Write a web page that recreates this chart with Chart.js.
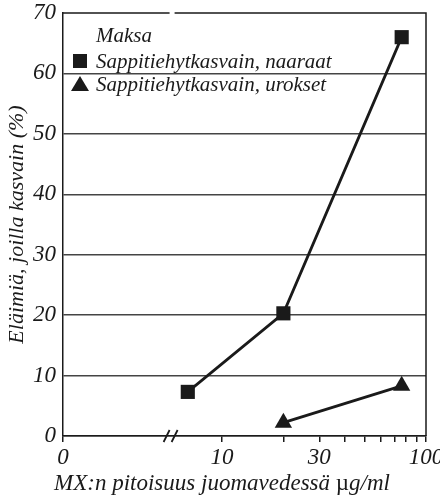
<!DOCTYPE html>
<html>
<head>
<meta charset="utf-8">
<script src="https://cdn.jsdelivr.net/npm/chart.js@4/dist/chart.umd.min.js"></script>
<style>
  html, body { margin: 0; padding: 0; background: #fff; }
  #wrap { width: 440px; height: 500px; position: relative; }
</style>
</head>
<body>
<div id="wrap"><canvas id="kuva"></canvas></div>
<script>
// left end of the log axis, labelled "0" (controls sit left of the break)
const controlDose = 1.663;
const breakDose = 5.6;
const xTickValues = [controlDose, 10, 20, 30, 40, 50, 60, 70, 80, 90, 100];
const xLabelValues = [controlDose, 10, 30, 100];
const xLabelTexts = ['0', '10', '30', '100'];
const yMax = 70;
const yStep = 10;

const femaleDose = [6.8, 20, 76];
const femaleTumours = [7.3, 20.3, 66];
const maleDose = [20, 76];
const maleTumours = [2.2, 8.3];

const legendTitle = 'Maksa';
const seriesNames = ['Sappitiehytkasvain, naaraat', 'Sappitiehytkasvain, urokset'];
// x title in pieces: the micro sign is upright in the original
const xTitleParts = [['MX:n pitoisuus juomavedessä ', 'italic'], ['µ', 'normal'], ['g/ml', 'italic']];

const ink = '#1a1a1a';
const gridInk = '#444';
const serif = "'Liberation Serif', 'Times New Roman', serif";

function points(xs, ys) {
  return xs.map((x, i) => ({ x: x, y: ys[i] }));
}

// top frame with the break gap, right frame, break marks, legend and x title
const kehys = {
  id: 'kehys',
  afterDraw(chart) {
    const { ctx, chartArea: a } = chart;
    const bx = chart.scales.x.getPixelForValue(breakDose);
    ctx.save();
    ctx.strokeStyle = ink;
    ctx.lineWidth = 1.5;
    ctx.beginPath();
    ctx.moveTo(a.left, a.top);
    ctx.lineTo(bx - 1, a.top);
    ctx.moveTo(bx + 4, a.top);
    ctx.lineTo(a.right, a.top);
    ctx.lineTo(a.right, a.bottom);
    ctx.stroke();

    ctx.lineWidth = 1.8;
    ctx.beginPath();
    [-4, 4].forEach(d => {
      ctx.moveTo(bx + d - 3, a.bottom + 6);
      ctx.lineTo(bx + d + 3, a.bottom - 6);
    });
    ctx.stroke();

    ctx.fillStyle = ink;
    ctx.font = 'italic 21px ' + serif;
    ctx.textBaseline = 'middle';
    ctx.textAlign = 'left';
    const mx = a.left + 17;
    const tx = a.left + 33;
    ctx.fillText(legendTitle, tx, a.top + 23);

    ctx.fillRect(mx - 7, a.top + 48 - 7, 14, 14);
    ctx.fillText(seriesNames[0], tx, a.top + 49);

    const ty = a.top + 72;
    ctx.beginPath();
    ctx.moveTo(mx, ty - 9);
    ctx.lineTo(mx + 9, ty + 6);
    ctx.lineTo(mx - 9, ty + 6);
    ctx.closePath();
    ctx.fill();
    ctx.fillText(seriesNames[1], tx, a.top + 72);

    const widths = xTitleParts.map(p => {
      ctx.font = p[1] + ' 23px ' + serif;
      return ctx.measureText(p[0]).width;
    });
    let x = chart.width / 2 + 2 - widths.reduce((s, w) => s + w, 0) / 2;
    xTitleParts.forEach((p, i) => {
      ctx.font = p[1] + ' 23px ' + serif;
      ctx.fillText(p[0], x, 484);
      x += widths[i];
    });
    ctx.restore();
  }
};

new Chart(document.getElementById('kuva'), {
  type: 'line',
  data: {
    datasets: [
      {
        label: seriesNames[0],
        data: points(femaleDose, femaleTumours),
        borderColor: ink,
        backgroundColor: ink,
        borderWidth: 2.8,
        pointStyle: 'rect',
        pointRadius: 10,
        pointBorderWidth: 0,
        tension: 0
      },
      {
        label: seriesNames[1],
        data: points(maleDose, maleTumours),
        borderColor: ink,
        backgroundColor: ink,
        borderWidth: 2.8,
        pointStyle: 'triangle',
        pointRadius: 10,
        pointBorderWidth: 0,
        tension: 0
      }
    ]
  },
  options: {
    responsive: true,
    maintainAspectRatio: false,
    animation: false,
    layout: { padding: { top: 13, right: 14, bottom: 0, left: 0 } },
    plugins: {
      legend: { display: false },
      tooltip: { enabled: false }
    },
    scales: {
      x: {
        type: 'logarithmic',
        min: controlDose,
        max: 100,
        bounds: 'data',
        afterBuildTicks: scale => {
          scale.ticks = xTickValues.map(v => ({ value: v }));
        },
        afterFit: scale => {
          scale.height = 64;
          scale.paddingLeft = 0;
          scale.paddingRight = 0;
        },
        grid: {
          drawOnChartArea: false,
          drawTicks: true,
          tickLength: 6,
          color: ink,
          lineWidth: 1.5
        },
        border: { display: true, color: ink, width: 1.5 },
        ticks: {
          autoSkip: false,
          maxRotation: 0,
          padding: 2,
          color: ink,
          font: { family: serif, size: 23, style: 'italic' },
          callback: function (value) {
            const i = xLabelValues.findIndex(v => Math.abs(v - value) < 1e-6);
            return i >= 0 ? xLabelTexts[i] : '';
          }
        },
        title: { display: false }
      },
      y: {
        min: 0,
        max: yMax,
        afterFit: scale => {
          scale.width = 63;
          scale.paddingTop = 0;
          scale.paddingBottom = 0;
        },
        grid: {
          drawTicks: false,
          color: c => (c.tick.value === yMax ? 'rgba(0,0,0,0)' : gridInk),
          lineWidth: 1.4
        },
        border: { display: true, color: ink, width: 1.5 },
        ticks: {
          stepSize: yStep,
          padding: 7,
          color: ink,
          font: { family: serif, size: 23, style: 'italic' }
        },
        title: {
          display: true,
          text: 'Eläimiä, joilla kasvain (%)',
          color: ink,
          font: { family: serif, size: 22, style: 'italic' },
          padding: { top: 4, bottom: 0 }
        }
      }
    }
  },
  plugins: [kehys]
});
</script>
</body>
</html>
